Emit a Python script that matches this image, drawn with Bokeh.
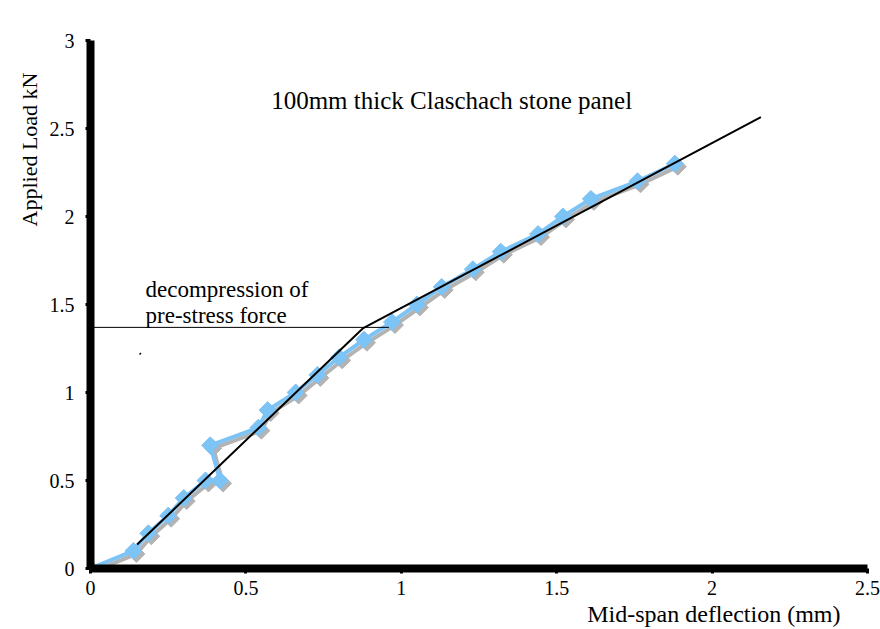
import math
from bokeh.plotting import figure
from bokeh.models import Range1d, FixedTicker, Label, Title
from bokeh.embed import file_html
from bokeh.resources import INLINE

# ---- data ----
deflection = [0.0, 0.138, 0.186, 0.25, 0.30, 0.37, 0.417, 0.385, 0.54, 0.57, 0.66,
              0.73, 0.80, 0.88, 0.97, 1.05, 1.13, 1.23, 1.32, 1.44, 1.52, 1.61, 1.76, 1.88]
load = [0.0, 0.1, 0.2, 0.3, 0.4, 0.5, 0.5, 0.7, 0.8, 0.9, 1.0,
        1.1, 1.2, 1.3, 1.4, 1.5, 1.6, 1.7, 1.8, 1.9, 2.0, 2.1, 2.2, 2.3]

trend_x = [0.15, 0.876, 2.157]
trend_y = [0.136, 1.364, 2.565]

decomp_x = [0.0, 0.96]
decomp_y = [1.37, 1.37]

x_ticks = [0, 0.5, 1, 1.5, 2, 2.5]
x_tick_labels = ["0", "0.5", "1", "1.5", "2", "2.5"]
y_ticks = [0, 0.5, 1, 1.5, 2, 2.5, 3]
y_tick_labels = ["0", "0.5", "1", "1.5", "2", "2.5", "3"]

title_text = "100mm thick Claschach stone panel"
note_lines = ["decompression of", "pre-stress force"]
x_label = "Mid-span deflection (mm)"
y_label = "Applied Load kN"

FONT = "Liberation Serif"
BLUE = "#7cc3f6"
SHADOW = "#b3b3b3"

p = figure(width=880, height=629, output_backend="svg", toolbar_location=None,
           x_range=Range1d(0, 2.5), y_range=Range1d(0, 3),
           min_border_left=90, min_border_right=13, min_border_top=40, min_border_bottom=61)
p.frame_width = 777
p.frame_height = 528
p.outline_line_color = None
p.xgrid.visible = False
p.ygrid.visible = False
p.background_fill_color = "white"
p.border_fill_color = "white"

for ax, ticks, labels in ((p.xaxis[0], x_ticks, x_tick_labels), (p.yaxis[0], y_ticks, y_tick_labels)):
    ax.ticker = FixedTicker(ticks=ticks)
    ax.major_label_overrides = {t: l for t, l in zip(ticks, labels)}
    ax.axis_line_width = 8
    ax.axis_line_color = "black"
    ax.major_tick_line_width = 3
    ax.major_tick_line_color = "black"
    ax.major_tick_in = 0
    ax.major_tick_out = 5
    ax.minor_tick_line_color = None
    ax.major_label_text_font = FONT
    ax.major_label_text_font_size = "20px"
    ax.major_label_text_color = "black"
p.xaxis[0].major_label_standoff = 7
p.yaxis[0].major_label_standoff = 11

# axis titles as side titles (aligned to the far ends like the reference)
p.add_layout(Title(text=x_label, align="right", offset=27, standoff=2,
                   text_font=FONT, text_font_size="24px", text_font_style="normal",
                   text_color="black"), "below")
p.add_layout(Title(text=y_label, align="right", offset=32, standoff=10,
                   text_font=FONT, text_font_size="22px", text_font_style="normal",
                   text_color="black"), "left")

# shadow offsets (a few pixels) in data units
dx = 3 / 311.0
dy = -3 / 176.0
sx = [v + dx for v in deflection]
sy = [v + dy for v in load]

p.line(sx, sy, line_color=SHADOW, line_width=4)
p.scatter(sx, sy, marker="square", angle=math.pi / 4, size=12,
          fill_color=SHADOW, line_color=SHADOW)
p.line(deflection, load, line_color=BLUE, line_width=4)
p.scatter(deflection, load, marker="square", angle=math.pi / 4, size=12,
          fill_color=BLUE, line_color=BLUE)

p.line(trend_x, trend_y, line_color="black", line_width=2)
p.line(decomp_x, decomp_y, line_color="black", line_width=1)
# small stray mark
p.segment(x0=[0.158], y0=[1.215], x1=[0.162], y1=[1.225], line_color="black", line_width=1.5)

p.add_layout(Label(x=1.162, y=2.66, text=title_text, text_font=FONT, text_font_size="25px",
                   text_align="center", text_baseline="middle", text_color="black"))
p.add_layout(Label(x=0.177, y=1.585, text=note_lines[0], text_font=FONT, text_font_size="23px",
                   text_align="left", text_baseline="middle", text_color="black"))
p.add_layout(Label(x=0.177, y=1.44, text=note_lines[1], text_font=FONT, text_font_size="23px",
                   text_align="left", text_baseline="middle", text_color="black"))

open("out.html", "w").write(file_html(p, INLINE))
